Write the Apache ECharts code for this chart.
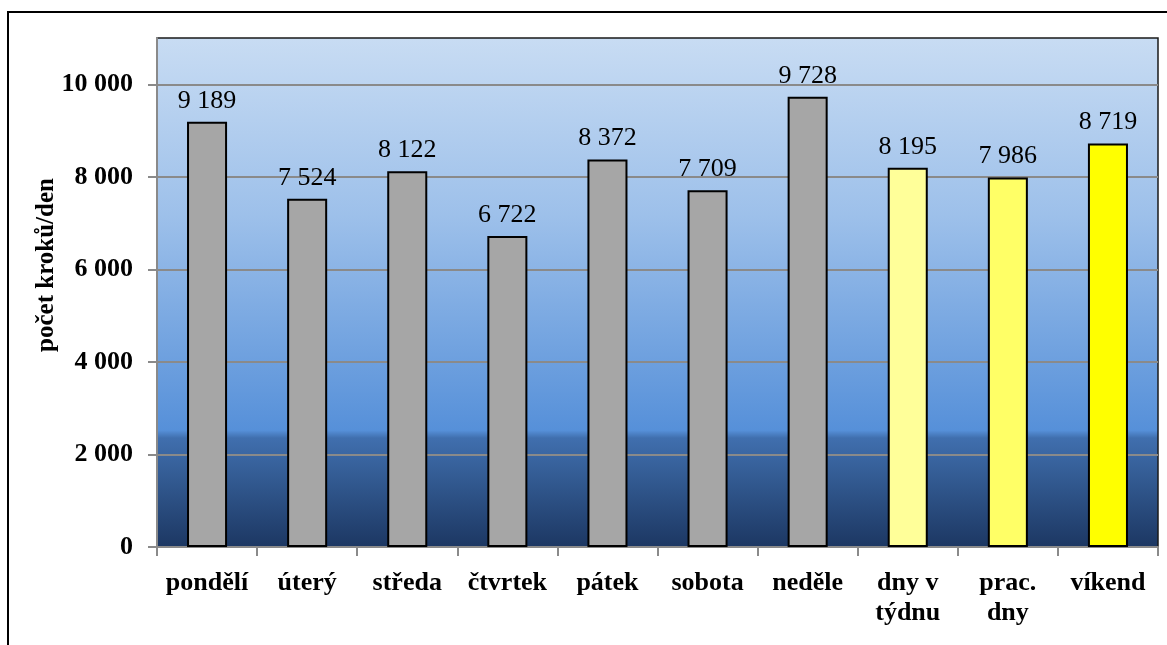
<!DOCTYPE html>
<html>
<head>
<meta charset="utf-8">
<script src="https://cdn.jsdelivr.net/npm/echarts@6/dist/echarts.min.js"></script>
<style>
  html, body { margin: 0; padding: 0; background: #fff; overflow: hidden; }
  #chart { position: absolute; left: 0; top: 0; width: 1167px; height: 645px; }
  #frame { position: absolute; left: 7px; top: 11px; width: 1300px; height: 800px;
           border: 2px solid #000; pointer-events: none; }
</style>
</head>
<body>
<div id="chart"></div>
<div id="frame"></div>
<script>
// Average steps per day, by day of week and aggregated groups
const categories = ['pondělí', 'úterý', 'středa', 'čtvrtek', 'pátek', 'sobota', 'neděle',
                    'dny v\ntýdnu', 'prac.\ndny', 'víkend'];
const steps = [9189, 7524, 8122, 6722, 8372, 7709, 9728, 8195, 7986, 8719];
const yTicks = [0, 2000, 4000, 6000, 8000, 10000];
const yAxisName = 'počet kroků/den';

// fill per bar: grey for single days, yellows for the summaries
const barFills = ['#a6a6a6', '#a6a6a6', '#a6a6a6', '#a6a6a6', '#a6a6a6', '#a6a6a6', '#a6a6a6',
                  '#ffff99', '#ffff66', '#ffff00'];

const fmt = v => String(v).replace(/\B(?=(\d{3})+(?!\d))/g, ' ');
const serif = '"Liberation Serif", "Times New Roman", serif';

const chart = echarts.init(document.getElementById('chart'), null, { renderer: 'canvas' });

chart.setOption({
  animation: false,
  grid: {
    left: 157, right: 9, top: 38, bottom: 98,
    show: true,
    borderColor: '#1a1a1a',
    borderWidth: 1.5,
    backgroundColor: new echarts.graphic.LinearGradient(0, 0, 0, 1, [
      { offset: 0, color: '#c8dcf3' },
      { offset: 0.35, color: '#9dc0ea' },
      { offset: 0.77, color: '#5690d9' },
      { offset: 0.785, color: '#406fae' },
      { offset: 1, color: '#1c3762' }
    ])
  },
  // rotated axis title, sitting a little above the plot's middle
  graphic: [{
    type: 'text',
    x: 47,
    y: 265,
    rotation: Math.PI / 2,
    style: {
      text: yAxisName,
      fill: '#000',
      font: 'bold 25px ' + serif,
      align: 'center',
      verticalAlign: 'middle'
    }
  }],
  xAxis: {
    type: 'category',
    data: categories,
    axisLine: { show: true, lineStyle: { color: '#8a8a8a', width: 2 } },
    axisTick: { show: true, alignWithLabel: false, length: 9, lineStyle: { color: '#8a8a8a', width: 2 } },
    axisLabel: {
      interval: 0,
      margin: 21,
      color: '#000',
      fontFamily: serif,
      fontWeight: 'bold',
      fontSize: 26,
      lineHeight: 30
    },
    splitLine: { show: false }
  },
  yAxis: {
    type: 'value',
    min: 0,
    max: 11000,
    axisLine: { show: true, lineStyle: { color: '#8a8a8a', width: 2 } },
    axisTick: { show: true, length: 9, customValues: yTicks, lineStyle: { color: '#8a8a8a', width: 2 } },
    axisLabel: {
      customValues: yTicks,
      margin: 24,
      color: '#000',
      fontFamily: serif,
      fontWeight: 'bold',
      fontSize: 26,
      formatter: v => fmt(v)
    },
    splitLine: { show: true, lineStyle: { color: '#8a8a8a', width: 2 } }
  },
  series: [{
    type: 'bar',
    barWidth: '40%',
    data: steps.map((v, i) => ({
      value: v,
      itemStyle: { color: barFills[i] }
    })),
    itemStyle: { borderColor: '#000', borderWidth: 2 },
    label: {
      show: true,
      position: 'top',
      distance: 8,
      color: '#000',
      fontFamily: serif,
      fontSize: 26,
      formatter: p => fmt(p.value)
    }
  }]
});
</script>
</body>
</html>
